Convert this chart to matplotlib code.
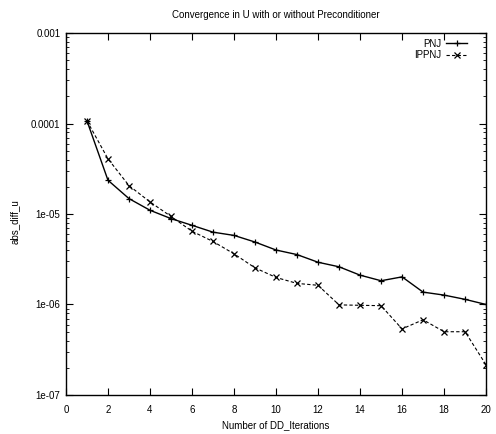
import matplotlib
matplotlib.use("Agg")
import matplotlib.pyplot as plt
from matplotlib.ticker import LogLocator, FixedLocator, FixedFormatter, NullFormatter

plt.rcParams['font.family'] = ['Liberation Sans', 'DejaVu Sans']

iterations = list(range(1, 21))
pnj = [1.07e-4, 2.36e-5, 1.48e-5, 1.10e-5, 8.9e-6, 7.5e-6, 6.3e-6, 5.8e-6, 4.9e-6, 4.0e-6,
       3.56e-6, 2.93e-6, 2.61e-6, 2.11e-6, 1.83e-6, 2.02e-6, 1.37e-6, 1.27e-6, 1.14e-6, 1.0e-6]
ippnj = [1.07e-4, 4.07e-5, 2.06e-5, 1.36e-5, 9.4e-6, 6.45e-6, 4.97e-6, 3.63e-6, 2.54e-6, 1.99e-6,
         1.71e-6, 1.63e-6, 9.9e-7, 9.8e-7, 9.7e-7, 5.37e-7, 6.78e-7, 5.0e-7, 5.0e-7, 2.15e-7]
ytick_vals = [1e-7, 1e-6, 1e-5, 1e-4, 1e-3]
ytick_labels = ['1e-07', '1e-06', '1e-05', '0.0001', '0.001']
xtick_vals = [0, 2, 4, 6, 8, 10, 12, 14, 16, 18, 20]

fs = 7
fig = plt.figure(figsize=(4.96, 4.34), dpi=100)
ax = fig.add_axes([0.133, 0.0899, 0.847, 0.834])

ax.plot(iterations, pnj, color='black', lw=1.0, marker='+', ms=5, mew=0.9, label='PNJ')
ax.plot(iterations, ippnj, color='black', lw=0.8, ls=(0, (3, 2)), marker='x', ms=4, mew=0.9, label='IPPNJ')

ax.set_yscale('log')
ax.set_xlim(0, 20)
ax.set_ylim(1e-7, 1e-3)
ax.yaxis.set_major_locator(FixedLocator(ytick_vals))
ax.yaxis.set_major_formatter(FixedFormatter(ytick_labels))
ax.yaxis.set_minor_locator(LogLocator(base=10, subs=range(2, 10)))
ax.yaxis.set_minor_formatter(NullFormatter())
ax.xaxis.set_major_locator(FixedLocator(xtick_vals))

ax.tick_params(axis='both', which='major', direction='in', length=5, width=0.8,
               top=True, right=True, labelsize=fs)
ax.tick_params(axis='x', which='major', pad=7)
ax.tick_params(axis='y', which='major', pad=4)
ax.tick_params(axis='y', which='minor', direction='in', length=2.5, width=0.6, right=True)
for s in ax.spines.values():
    s.set_linewidth(1.0)

ax.set_title('Convergence in U with or without Preconditioner', fontsize=fs, pad=11)
ax.set_xlabel('Number of DD_Iterations', fontsize=fs, labelpad=4)
ax.set_ylabel('abs_diff_u', fontsize=fs)
ax.yaxis.set_label_coords(-0.11, 0.478)

ax.legend(loc='upper right', bbox_to_anchor=(0.969, 1.0), frameon=False, fontsize=fs,
          markerfirst=False, handlelength=2.16, handletextpad=0.5, labelspacing=0.15,
          borderaxespad=0.2)

fig.savefig('out.png', dpi=100)
